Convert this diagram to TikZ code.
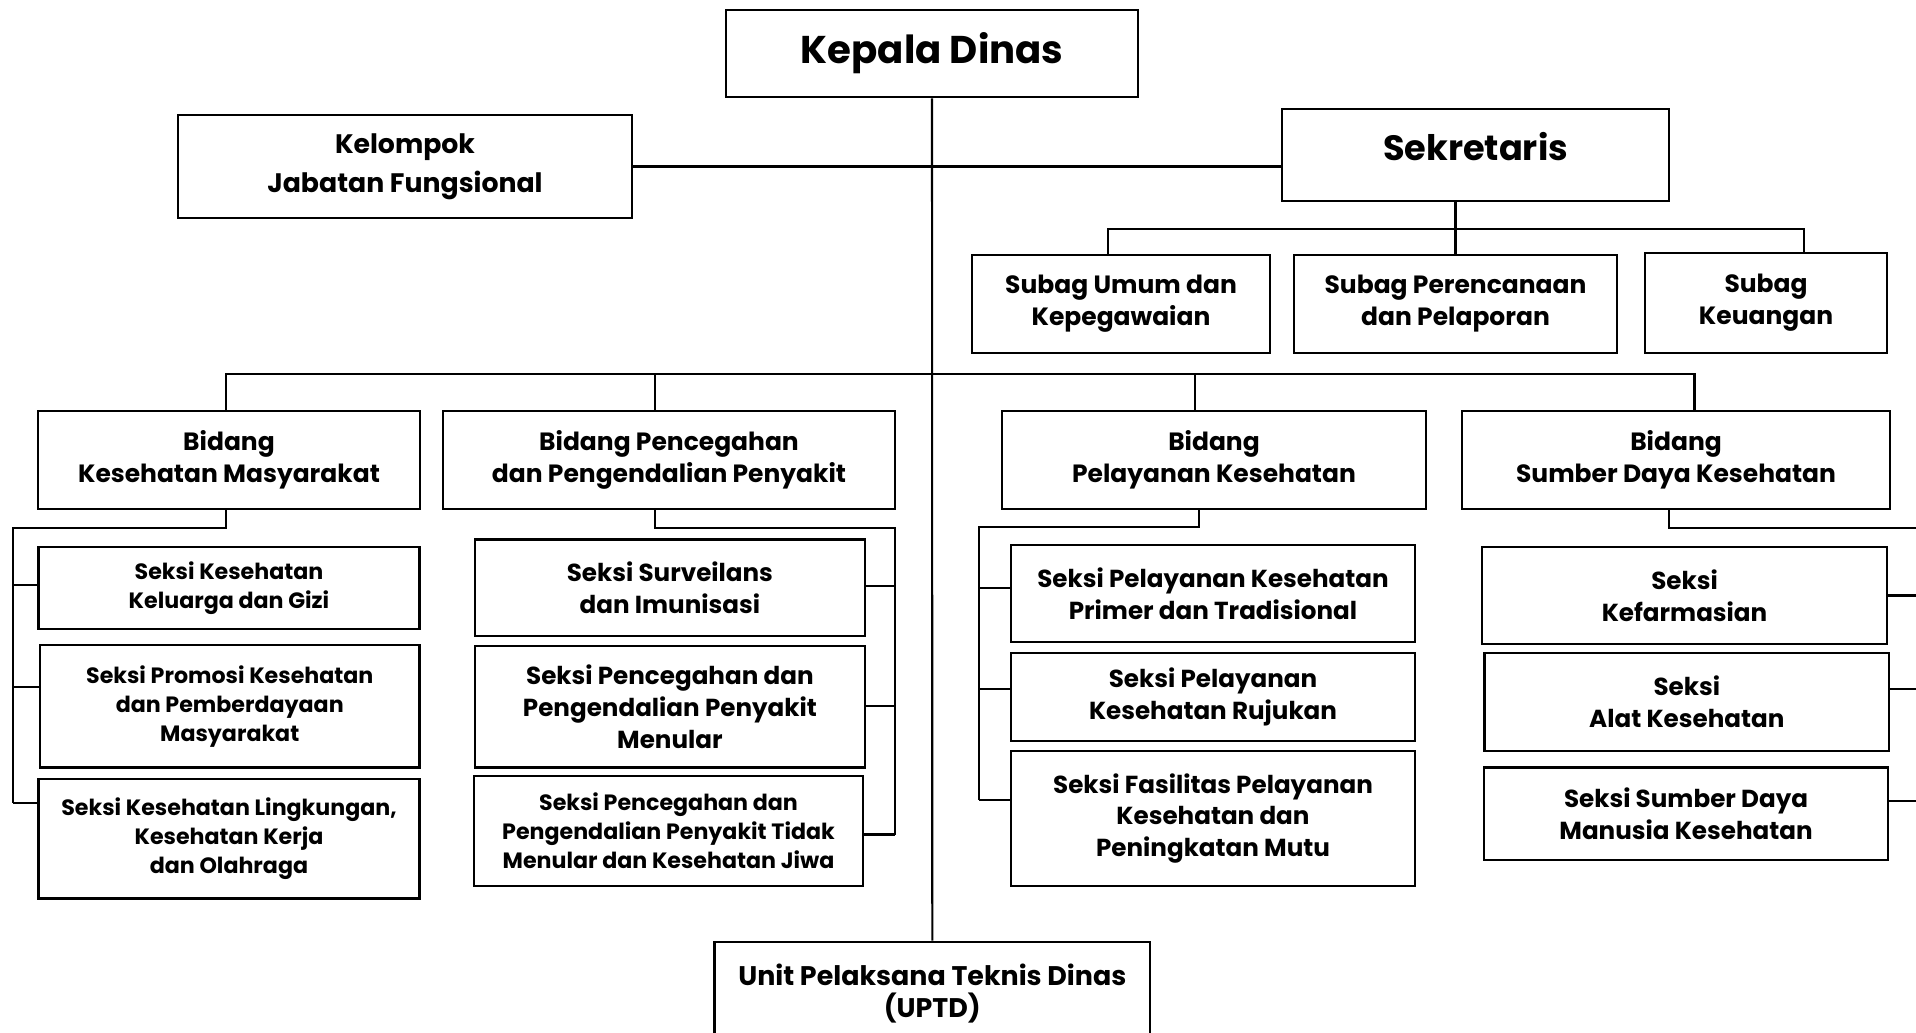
\documentclass[tikz,border=0pt]{standalone}
\usepackage{fontspec}
\setmainfont{Poppins}
\usetikzlibrary{positioning,calc}

\begin{document}
\begin{tikzpicture}[
    x=0.01cm,y=-0.01cm,
    every node/.style={align=center},
    unit/.style={draw,line width=0.7pt,inner sep=2pt,font=\fontsize{7.1}{9.1}\selectfont\bfseries},
    head/.style={unit,font=\fontsize{11}{13}\selectfont\bfseries},
    seksi/.style={unit,font=\fontsize{7}{9}\selectfont\bfseries},
    seksikecil/.style={unit,font=\fontsize{6.3}{8.2}\selectfont\bfseries},
    link/.style={line width=0.6pt}
  ]
  \useasboundingbox (0,0) rectangle (1916,1032);
  \clip (0,0) rectangle (1916,1032);

  \node[head,minimum width=4.12cm,minimum height=0.87cm] (kadis) at (932,53.5) {Kepala Dinas};
  \node[unit,font=\fontsize{7.6}{9.2}\selectfont\bfseries,minimum width=4.54cm,minimum height=1.03cm] (jabfung) at (405,166.5) {Kelompok\\[2pt]Jabatan Fungsional};
  \node[head,font=\fontsize{10}{12}\selectfont\bfseries,text depth=4.8pt,minimum width=3.87cm,minimum height=0.92cm] (sekretaris) at (1475.5,155) {Sekretaris};

  \node[unit,minimum width=2.98cm,minimum height=0.98cm] (subum) at (1121,304) {Subag Umum dan\\Kepegawaian};
  \node[unit,minimum width=3.23cm,minimum height=0.98cm] (subren) at (1455.5,304) {Subag Perencanaan\\dan Pelaporan};
  \node[unit,minimum width=2.415cm,minimum height=1.00cm] (subkeu) at (1766,303) {Subag\\Keuangan};

  \node[unit,minimum width=3.82cm,minimum height=0.98cm] (bkesmas) at (229,460) {Bidang\\Kesehatan Masyarakat};
  \node[unit,minimum width=4.52cm,minimum height=0.98cm] (bp2p) at (669,460) {Bidang Pencegahan\\dan Pengendalian Penyakit};
  \node[unit,minimum width=4.24cm,minimum height=0.98cm] (byankes) at (1214,460) {Bidang\\Pelayanan Kesehatan};
  \node[unit,minimum width=4.28cm,minimum height=0.98cm] (bsdk) at (1676,460) {Bidang\\Sumber Daya Kesehatan};

  \node[seksikecil,minimum width=3.81cm,minimum height=0.82cm] (kesga) at (229,588) {Seksi Kesehatan\\Keluarga dan Gizi};
  \node[seksikecil,minimum width=3.795cm,minimum height=1.226cm] (promkes) at (229.75,706.3) {Seksi Promosi Kesehatan\\dan Pemberdayaan\\Masyarakat};
  \node[seksikecil,minimum width=3.81cm,minimum height=1.196cm] (kesling) at (229,838.8) {Seksi Kesehatan Lingkungan,\\Kesehatan Kerja\\dan Olahraga};

  \node[seksi,minimum width=3.897cm,minimum height=0.965cm] (surv) at (669.9,587.75) {Seksi Surveilans\\dan Imunisasi};
  \node[seksi,minimum width=3.897cm,minimum height=1.216cm] (p2pm) at (669.9,706.8) {Seksi Pencegahan dan\\Pengendalian Penyakit\\Menular};
  \node[seksikecil,minimum width=3.89cm,minimum height=1.10cm] (ptm) at (668.5,831) {Seksi Pencegahan dan\\Pengendalian Penyakit Tidak\\Menular dan Kesehatan Jiwa};

  \node[seksi,minimum width=4.04cm,minimum height=0.97cm] (yprimer) at (1213,593.5) {Seksi Pelayanan Kesehatan\\Primer dan Tradisional};
  \node[seksi,minimum width=4.04cm,minimum height=0.88cm] (rujukan) at (1213,697) {Seksi Pelayanan\\Kesehatan Rujukan};
  \node[seksi,minimum width=4.04cm,minimum height=1.353cm] (fasyan) at (1213,818.4) {Seksi Fasilitas Pelayanan\\Kesehatan dan\\Peningkatan Mutu};

  \node[seksi,minimum width=4.05cm,minimum height=0.97cm] (farmasi) at (1684.5,595.5) {Seksi\\Kefarmasian};
  \node[seksi,minimum width=4.045cm,minimum height=0.977cm] (alkes) at (1686.75,701.9) {Seksi\\Alat Kesehatan};
  \node[seksi,minimum width=4.04cm,minimum height=0.924cm] (sdmk) at (1686,813.8) {Seksi Sumber Daya\\Manusia Kesehatan};

  \node[unit,font=\fontsize{7.65}{9.1}\selectfont\bfseries,minimum width=4.354cm,minimum height=1.033cm] (uptd) at (932.3,993.4) {Unit Pelaksana Teknis Dinas\\(UPTD)};

  \draw[link] (kadis.south) -- (uptd.north);
  \draw[link] (jabfung.east) -- (jabfung.east -| sekretaris.west);

  \coordinate (sekL) at (1108,229);
  \coordinate (sekR) at (1804,229);
  \draw[link] (sekretaris.south -| subren.north) -- (subren.north);
  \draw[link] (sekL |- subum.north) |- (sekR) -- (sekR |- subkeu.north);

  \coordinate (busL) at (226,374);
  \coordinate (busR) at (1694.5,374);
  \draw[link] (busL |- bkesmas.north) |- (busR) -- (busR |- bsdk.north);
  \draw[link] ($(bp2p.north)+(-14,0)$) -- ($(bp2p.north |- busL)+(-14,0)$);
  \draw[link] ($(byankes.north)+(-19,0)$) -- ($(byankes.north |- busL)+(-19,0)$);

  \coordinate (kmT) at (13,528);
  \coordinate (kmB) at (13,803);
  \draw[link] ($(bkesmas.south)+(-3,0)$) |- (kmT) -- (kmB);
  \foreach \n/\dy in {kesga/-3,promkes/-19,kesling/-36}
    \draw[link] ($(\n.west)+(0,\dy)$) -- ($(\n.west -| kmT)+(0,\dy)$);

  \coordinate (ppT) at (894.7,528);
  \coordinate (ppB) at (894.7,834.5);
  \draw[link] ($(bp2p.south)+(-14,0)$) |- (ppT) -- (ppB);
  \foreach \n/\dy in {surv/-2,p2pm/-1,ptm/3.5}
    \draw[link] ($(\n.east)+(0,\dy)$) -- ($(\n.east -| ppT)+(0,\dy)$);

  \coordinate (ykT) at (979,527);
  \coordinate (ykB) at (979,800);
  \draw[link] ($(byankes.south)+(-15,0)$) |- (ykT) -- (ykB);
  \foreach \n/\dy in {yprimer/-5.5,rujukan/-8,fasyan/-18}
    \draw[link] ($(\n.west)+(0,\dy)$) -- ($(\n.west -| ykT)+(0,\dy)$);

  \coordinate (sdT) at (1930,528);
  \coordinate (sdB) at (1930,801);
  \draw[link] ($(bsdk.south)+(-7,0)$) |- (sdT) -- (sdB);
  \foreach \n/\dy in {farmasi/0,alkes/-13,sdmk/-13}
    \draw[link] ($(\n.east)+(0,\dy)$) -- ($(\n.east -| sdT)+(0,\dy)$);
\end{tikzpicture}
\end{document}
